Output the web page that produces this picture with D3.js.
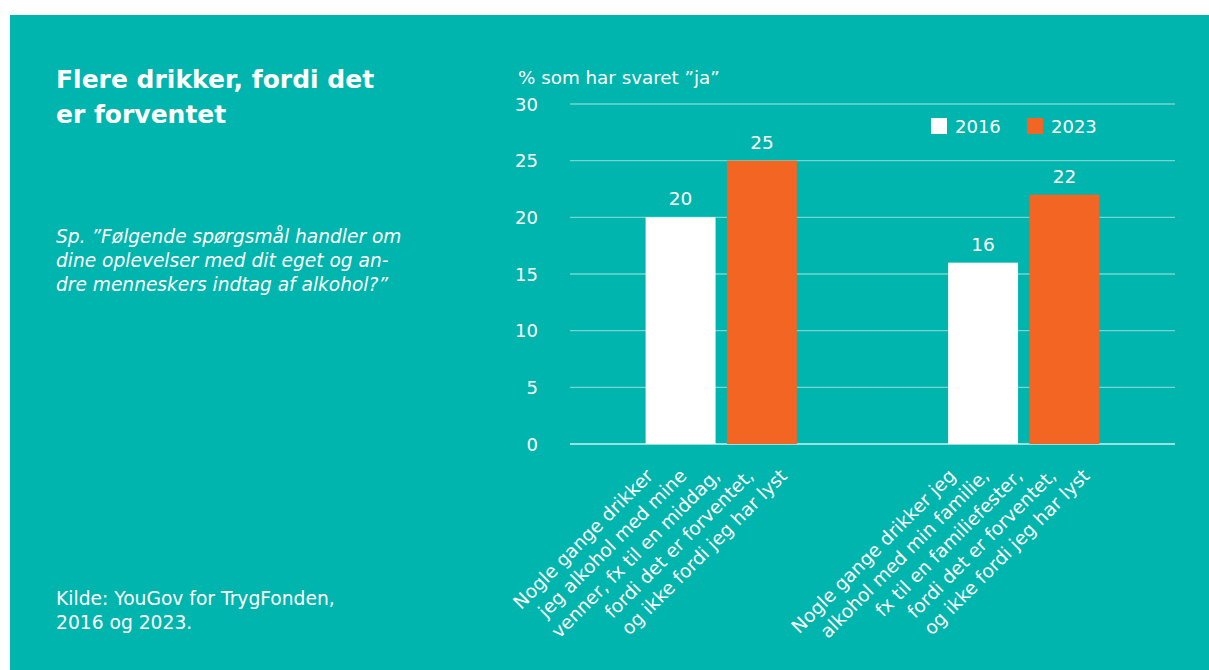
<!DOCTYPE html>
<html>
<head>
<meta charset="utf-8">
<script src="https://cdn.jsdelivr.net/npm/d3@7"></script>
<style>
  body { margin: 0; background: #fff; }
  svg { display: block; }
  text { font-family: "DejaVu Sans", sans-serif; fill: #fff; }
</style>
</head>
<body>
<svg id="chart" width="1209" height="670"></svg>
<script>
// data
const categories = [
    ["Nogle gange drikker", "jeg alkohol med mine", "venner, fx til en middag,", "fordi det er forventet,", "og ikke fordi jeg har lyst"],
    ["Nogle gange drikker jeg", "alkohol med min familie,", "fx til en familiefester,", "fordi det er forventet,", "og ikke fordi jeg har lyst"]
];
const years = ["2016", "2023"];
const values2016 = [20, 16];
const values2023 = [25, 22];
const yTicks = [0, 5, 10, 15, 20, 25, 30];

const teal = "#00b5ad";
const colors = { "2016": "#ffffff", "2023": "#f36523" };

const svg = d3.select("#chart");

// teal panel
svg.append("rect")
    .attr("x", 10).attr("y", 15)
    .attr("width", 1199).attr("height", 655)
    .attr("fill", teal);

// left column texts
const title = svg.append("text")
    .attr("x", 56).attr("y", 88)
    .attr("font-size", "25px")
    .attr("font-weight", "bold");
["Flere drikker, fordi det", "er forventet"].forEach((t, i) => {
    title.append("tspan").attr("x", 56).attr("dy", i === 0 ? 0 : 35).text(t);
});

const question = svg.append("text")
    .attr("x", 56).attr("y", 243)
    .attr("font-size", "18.6px")
    .attr("font-style", "italic");
["Sp. \u201DFølgende spørgsmål handler om", "dine oplevelser med dit eget og an-", "dre menneskers indtag af alkohol?\u201D"].forEach((t, i) => {
    question.append("tspan").attr("x", 56).attr("dy", i === 0 ? 0 : 24).text(t);
});

const source = svg.append("text")
    .attr("x", 56).attr("y", 605)
    .attr("font-size", "18.7px");
["Kilde: YouGov for TrygFonden,", "2016 og 2023."].forEach((t, i) => {
    source.append("tspan").attr("x", 56).attr("dy", i === 0 ? 0 : 24).text(t);
});

// chart area
const plot = { left: 570, right: 1175, top: 104, bottom: 444 };

const y = d3.scaleLinear().domain([0, 30]).range([plot.bottom, plot.top]);
const x0 = d3.scaleBand()
    .domain(d3.range(categories.length))
    .range([plot.left, plot.right])
    .paddingInner(0.5)
    .paddingOuter(0.25);
const x1 = d3.scaleBand()
    .domain(years)
    .range([0, x0.bandwidth()])
    .paddingInner(0.14);

// gridlines
svg.append("g")
    .selectAll("line")
    .data(yTicks)
    .join("line")
    .attr("x1", plot.left).attr("x2", plot.right)
    .attr("y1", d => y(d)).attr("y2", d => y(d))
    .attr("stroke", "#ffffff")
    .attr("stroke-opacity", d => d === 0 ? 0.6 : 0.45)
    .attr("stroke-width", d => d === 0 ? 2 : 1.3);

// y axis labels
const yAxis = svg.append("g")
    .attr("transform", `translate(538,0)`)
    .call(d3.axisLeft(y).tickValues(yTicks).tickSize(0).tickPadding(0));
yAxis.select(".domain").remove();
yAxis.selectAll("text")
    .attr("font-size", "18px")
    .attr("font-family", "'DejaVu Sans', sans-serif")
    .attr("fill", "#fff")
    .attr("dy", "0.35em");

svg.append("text")
    .attr("x", 518).attr("y", 84)
    .attr("font-size", "18.3px")
    .text("% som har svaret \u201Dja\u201D");

// bars
const rows = categories.map((c, i) => ({ i, vals: [
    { year: "2016", v: values2016[i] },
    { year: "2023", v: values2023[i] }
] }));

const groups = svg.append("g")
    .selectAll("g")
    .data(rows)
    .join("g")
    .attr("transform", d => `translate(${x0(d.i)},0)`);

groups.selectAll("rect")
    .data(d => d.vals)
    .join("rect")
    .attr("x", d => x1(d.year))
    .attr("y", d => y(d.v))
    .attr("width", x1.bandwidth())
    .attr("height", d => y(0) - y(d.v))
    .attr("fill", d => colors[d.year]);

groups.selectAll("text.val")
    .data(d => d.vals)
    .join("text")
    .attr("class", "val")
    .attr("x", d => x1(d.year) + x1.bandwidth() / 2)
    .attr("y", d => y(d.v) - 12)
    .attr("text-anchor", "middle")
    .attr("font-size", "18.5px")
    .text(d => d.v);

// rotated category labels, one text per line
const lineStep = 33.5;
const labelY = 477;
categories.forEach((lines, i) => {
    const cx = x0(i) + x0.bandwidth() / 2;
    lines.forEach((t, j) => {
        const lx = cx + (j - 2) * lineStep;
        svg.append("text")
            .attr("transform", `translate(${lx},${labelY}) rotate(-45)`)
            .attr("text-anchor", "end")
            .attr("font-size", "18.6px")
            .text(t);
    });
});

// legend
const legend = svg.append("g")
    .selectAll("g")
    .data(years)
    .join("g")
    .attr("transform", (d, i) => `translate(${931 + i * 96},118)`);
legend.append("rect")
    .attr("width", 16).attr("height", 16)
    .attr("fill", d => colors[d]);
legend.append("text")
    .attr("x", 24).attr("y", 15)
    .attr("font-size", "18px")
    .text(d => d);
</script>
</body>
</html>
